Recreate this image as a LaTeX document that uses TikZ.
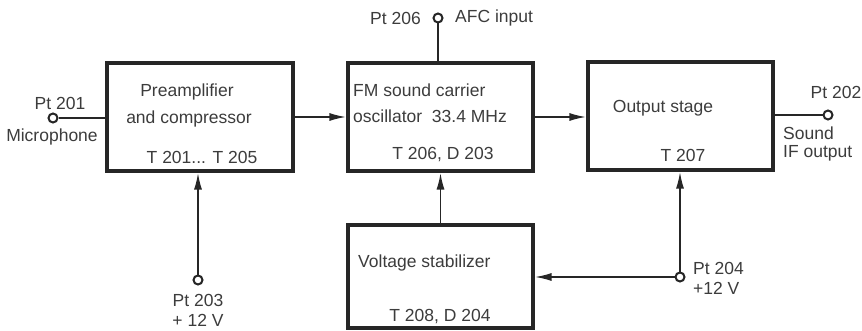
\documentclass[tikz,border=0pt]{standalone}
\usepackage{fontspec}
\setmainfont{Liberation Sans}
\usetikzlibrary{arrows.meta}
\definecolor{ink}{HTML}{262626}
\definecolor{txt}{HTML}{3C3C3C}
\tikzset{
  blk/.style={draw=ink, line width=3.2pt, fill=none, inner sep=0pt},
  lbl/.style={text=txt, inner sep=0pt, font=\fontsize{17.5}{20}\selectfont},
  conn/.style={draw=ink, line width=1.8pt},
  arr/.style={conn, -{Latex[length=17pt,width=8pt]}},
  term/.style={circle, draw=ink, line width=2pt, fill=white, minimum size=9pt, inner sep=0pt},
}
\begin{document}
\begin{tikzpicture}[x=1pt,y=-1pt]
\useasboundingbox (0,0) rectangle (862,331);
% boxes
\node[blk, minimum width=186pt, minimum height=108pt] (b1) at (200,117) {};
\node[blk, minimum width=185pt, minimum height=108pt] (b2) at (440.5,117) {};
\node[blk, minimum width=185pt, minimum height=108pt] (b3) at (680.5,116) {};
\node[blk, minimum width=185pt, minimum height=103pt] (b4) at (440.5,276.5) {};
% box texts
\node[lbl] (t1a) at (187,92) {Preamplifier};
\node[lbl] (t1b) at (189,119) {and compressor};
\node[lbl] (t1c) at (202,157) {T 201... T 205};
\node[lbl, anchor=west] (t2a) at (353,90) {FM sound carrier};
\node[lbl, anchor=west] (t2b) at (353,116) {oscillator\ \ 33.4 MHz};
\node[lbl] (t2c) at (443,155) {T 206, D 203};
\node[lbl] (t3a) at (663,108) {Output stage};
\node[lbl] (t3b) at (683,155) {T 207};
\node[lbl, anchor=west] (t4a) at (358,263) {Voltage stabilizer};
\node[lbl] (t4b) at (440,317) {T 208, D 204};
% terminals
\node[term] (p201) at (53,118) {};
\node[term] (p202) at (828,115) {};
\node[term] (p203) at (198,280) {};
\node[term] (p204) at (680,277) {};
\node[term] (p206) at (438,18) {};
% terminal labels
\node[lbl] (l201) at (60,103) {Pt 201};
\node[lbl] (l201b) at (52,137) {Microphone};
\node[lbl] (l202) at (836,92) {Pt 202};
\node[lbl, anchor=west] (l202b) at (783,133) {Sound};
\node[lbl, anchor=west] (l202c) at (783,153) {IF output};
\node[lbl] (l203) at (198,300) {Pt 203};
\node[lbl] (l203b) at (198,320) {+ 12 V};
\node[lbl, anchor=west] (l204) at (693,268) {Pt 204};
\node[lbl, anchor=west] (l204b) at (693,288) {+12 V};
\node[lbl, anchor=east] (l206) at (421,18) {Pt 206};
\node[lbl, anchor=west] (l206b) at (455,18) {AFC input};
% connectors
\draw[conn] (p201) -- (p201 -| b1.west);
\draw[arr] (b1.east) -- (b2.west);
\draw[arr] (b2.east) -- (b2.east -| b3.west);
\draw[conn] (b3.east |- p202) -- (p202);
\draw[conn] (p206) -- (p206 |- b2.north);
\draw[arr] (p203) -- (p203 |- b1.south);
\draw[arr] (b4.north) -- (b2.south);
\draw[arr] (p204) -- (p204 |- b3.south);
\draw[arr] (p204) -- (p204 -| b4.east);
\end{tikzpicture}
\end{document}
